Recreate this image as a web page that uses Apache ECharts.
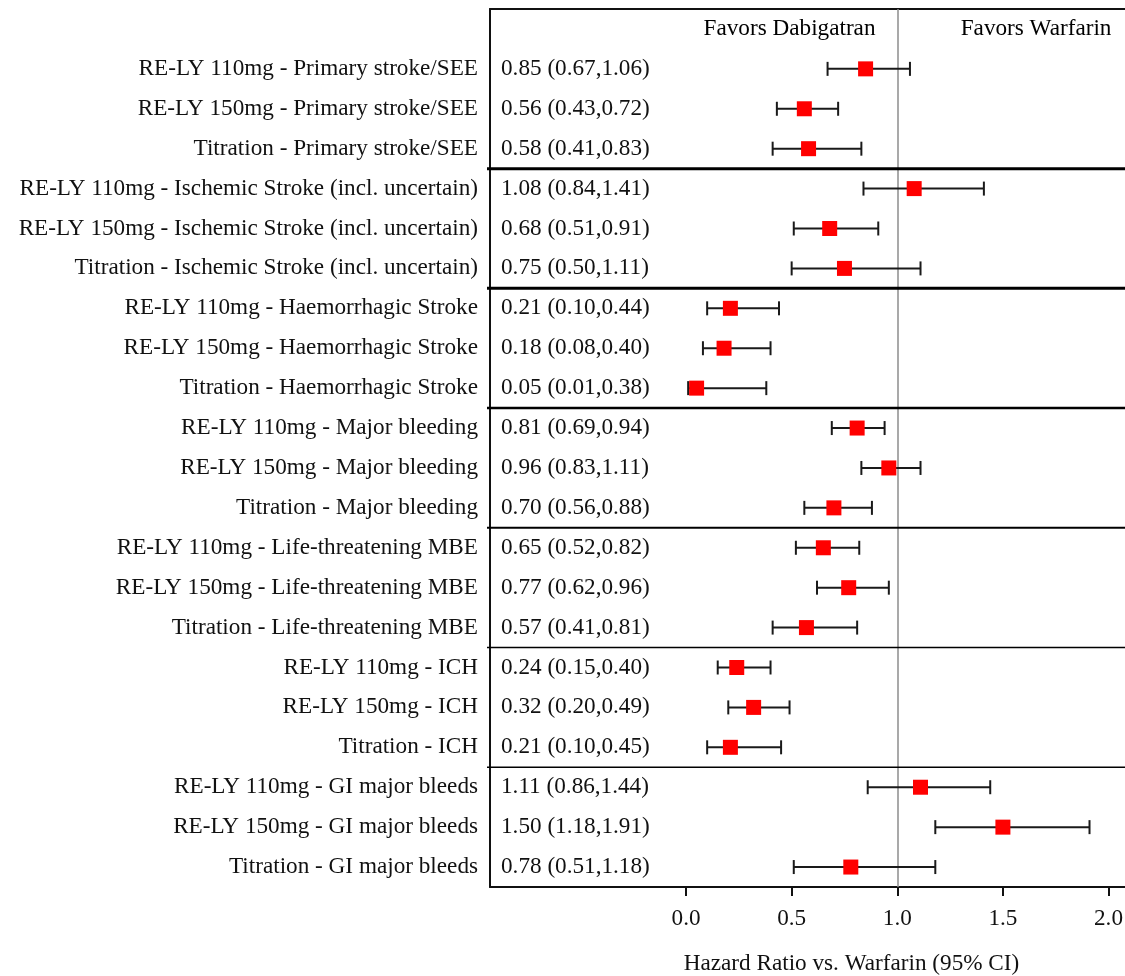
<!DOCTYPE html>
<html>
<head>
<meta charset="utf-8">
<script src="https://cdn.jsdelivr.net/npm/echarts@6/dist/echarts.min.js"></script>
<style>
html,body{margin:0;padding:0;background:#fff;}
#chart{width:1125px;height:976px;}
</style>
</head>
<body>
<div id="chart"></div>
<script>
// ---- data ----
const labels = [
  'RE-LY 110mg - Primary stroke/SEE',
  'RE-LY 150mg - Primary stroke/SEE',
  'Titration - Primary stroke/SEE',
  'RE-LY 110mg - Ischemic Stroke (incl. uncertain)',
  'RE-LY 150mg - Ischemic Stroke (incl. uncertain)',
  'Titration - Ischemic Stroke (incl. uncertain)',
  'RE-LY 110mg - Haemorrhagic Stroke',
  'RE-LY 150mg - Haemorrhagic Stroke',
  'Titration - Haemorrhagic Stroke',
  'RE-LY 110mg - Major bleeding',
  'RE-LY 150mg - Major bleeding',
  'Titration - Major bleeding',
  'RE-LY 110mg - Life-threatening MBE',
  'RE-LY 150mg - Life-threatening MBE',
  'Titration - Life-threatening MBE',
  'RE-LY 110mg - ICH',
  'RE-LY 150mg - ICH',
  'Titration - ICH',
  'RE-LY 110mg - GI major bleeds',
  'RE-LY 150mg - GI major bleeds',
  'Titration - GI major bleeds'
];
const hr    = [0.85,0.56,0.58, 1.08,0.68,0.75, 0.21,0.18,0.05, 0.81,0.96,0.70, 0.65,0.77,0.57, 0.24,0.32,0.21, 1.11,1.50,0.78];
const lower = [0.67,0.43,0.41, 0.84,0.51,0.50, 0.10,0.08,0.01, 0.69,0.83,0.56, 0.52,0.62,0.41, 0.15,0.20,0.10, 0.86,1.18,0.51];
const upper = [1.06,0.72,0.83, 1.41,0.91,1.11, 0.44,0.40,0.38, 0.94,1.11,0.88, 0.82,0.96,0.81, 0.40,0.49,0.45, 1.44,1.91,1.18];
const groupSize = 3;
const headerTexts = ['Favors Dabigatran', 'Favors Warfarin'];
const headerX = [0.49, 1.657];
const refValue = 1.0;
const xTicks = [0.0, 0.5, 1.0, 1.5, 2.0];
const xTitle = 'Hazard Ratio vs. Warfarin (95% CI)';

// ---- styles ----
const FONT = "'Liberation Serif','Times New Roman',serif";
const FS = 23.2;
const SEP_WIDTHS = [3, 3, 2.5, 2, 1.5, 1.5];

const cats = [''].concat(labels);
const ciText = [''].concat(hr.map((v, i) => v.toFixed(2) + ' (' + lower[i].toFixed(2) + ',' + upper[i].toFixed(2) + ')'));

const sepIdx = [];
for (let g = groupSize; g < labels.length; g += groupSize) sepIdx.push(g);

const chart = echarts.init(document.getElementById('chart'), null, {renderer: 'canvas'});
const option = {
  backgroundColor: '#fff',
  animation: false,
  textStyle: {fontFamily: FONT},
  grid: {left: 490, right: 0, top: 9, bottom: 89, show: false, containLabel: false, outerBoundsMode: 'none'},
  xAxis: [
    {
      type: 'value', min: -0.928, max: 2.078, position: 'bottom',
      axisLine: {show: true, onZero: false, lineStyle: {color: '#111', width: 2}},
      axisTick: {show: true, length: 9, inside: false, lineStyle: {color: '#111', width: 2}, customValues: xTicks},
      axisLabel: {color: '#111', fontSize: FS, fontFamily: FONT, margin: 20, customValues: xTicks,
        formatter: v => Number(v).toFixed(1)},
      splitLine: {show: false},
      name: xTitle, nameLocation: 'middle', nameGap: 65,
      nameTextStyle: {color: '#111', fontSize: FS, fontFamily: FONT, padding: [0, 0, 0, 88]}
    },
    {
      type: 'value', min: -0.928, max: 2.078, position: 'top',
      axisLine: {show: true, onZero: false, lineStyle: {color: '#111', width: 2}},
      axisTick: {show: false}, axisLabel: {show: false}, splitLine: {show: false}
    }
  ],
  yAxis: [
    {
      type: 'category', data: cats, inverse: true, position: 'left',
      axisLine: {show: true, onZero: false, lineStyle: {color: '#111', width: 2}},
      axisTick: {show: false},
      axisLabel: {color: '#111', fontSize: FS, fontFamily: FONT, margin: 12, interval: 0},
      splitLine: {show: false}
    },
    {
      type: 'category', data: cats, inverse: true, position: 'left',
      axisLine: {show: false, onZero: false}, axisTick: {show: false},
      axisLabel: {inside: true, align: 'left', color: '#111', fontSize: FS, fontFamily: FONT, margin: 11, interval: 0,
        formatter: (v, i) => ciText[i]},
      splitLine: {show: false}
    }
  ],
  series: [
    {
      type: 'custom', name: 'separators', z: 3, silent: true,
      coordinateSystem: 'cartesian2d',
      data: sepIdx.map(i => [0, i]),
      renderItem: (params, api) => {
        const b = api.value(1);
        const cs = params.coordSys;
        const y1 = api.coord([0, b])[1];
        const y2 = api.coord([0, b + 1])[1];
        const y = (y1 + y2) / 2;
        return {type: 'line', shape: {x1: cs.x - 3, y1: y, x2: cs.x + cs.width, y2: y},
          style: {stroke: '#000', lineWidth: SEP_WIDTHS[params.dataIndex]}};
      }
    },
    {
      type: 'custom', name: 'ci', z: 4, silent: true,
      coordinateSystem: 'cartesian2d',
      data: hr.map((v, i) => [lower[i], upper[i], i + 1]),
      encode: {x: [0, 1], y: 2},
      renderItem: (params, api) => {
        const p1 = api.coord([api.value(0), api.value(2)]);
        const p2 = api.coord([api.value(1), api.value(2)]);
        const h = 7;
        const st = {stroke: '#1a1a1a', lineWidth: 2};
        return {type: 'group', children: [
          {type: 'line', shape: {x1: p1[0], y1: p1[1], x2: p2[0], y2: p2[1]}, style: st},
          {type: 'line', shape: {x1: p1[0], y1: p1[1] - h, x2: p1[0], y2: p1[1] + h}, style: st},
          {type: 'line', shape: {x1: p2[0], y1: p2[1] - h, x2: p2[0], y2: p2[1] + h}, style: st}
        ]};
      }
    },
    {
      type: 'scatter', name: 'HR', z: 5, silent: true,
      symbol: 'rect', symbolSize: 15,
      itemStyle: {color: '#ff0000', opacity: 1},
      data: hr.map((v, i) => [v, i + 1]),
      markLine: {
        silent: true, symbol: ['none', 'none'], z: 2,
        label: {show: false},
        lineStyle: {color: '#8c8c8c', width: 1.5, type: 'solid'},
        data: [{xAxis: refValue}]
      }
    },
    {
      type: 'scatter', name: 'headers', z: 5, silent: true,
      symbolSize: 0,
      itemStyle: {opacity: 1},
      data: headerX.map((x, i) => [x, 0]),
      label: {show: true, position: 'inside', color: '#000', opacity: 1, fontSize: FS, fontFamily: FONT,
        formatter: p => headerTexts[p.dataIndex]}
    }
  ]
};
chart.setOption(option);
</script>
</body>
</html>
